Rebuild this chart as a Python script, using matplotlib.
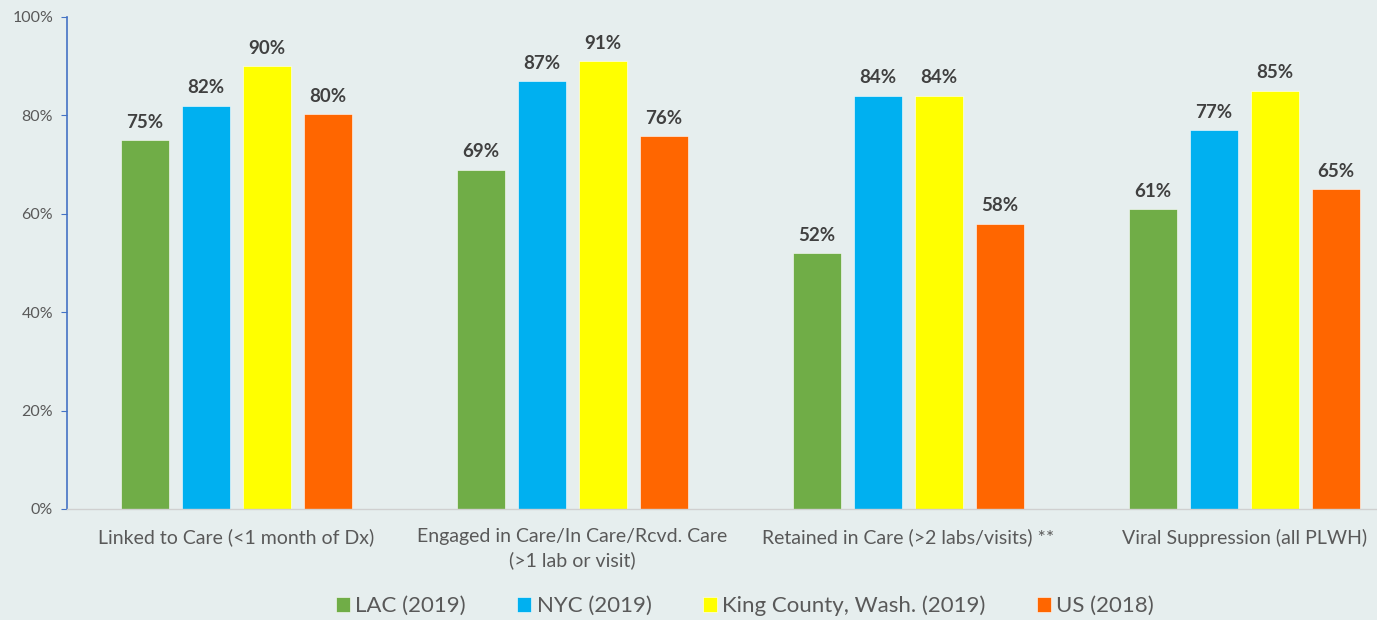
import matplotlib.pyplot as plt
import numpy as np

plt.rcParams['font.family'] = ['Lato', 'DejaVu Sans']

categories = ['Linked to Care (<1 month of Dx)',
              'Engaged in Care/In Care/Rcvd. Care\n(>1 lab or visit)',
              'Retained in Care (>2 labs/visits) **',
              'Viral Suppression (all PLWH)']
series = ['LAC (2019)', 'NYC (2019)', 'King County, Wash. (2019)', 'US (2018)']
lac = [75, 69, 52, 61]
nyc = [82, 87, 84, 77]
king = [90, 91, 84, 85]
us = [80.3, 75.8, 58, 65]
values = [lac, nyc, king, us]
colors = ['#70AD47', '#00B0F0', '#FFFF00', '#FF6600']
yticks = [0, 20, 40, 60, 80, 100]

bg = '#E6EEEE'
fig = plt.figure(figsize=(13.77, 6.2), dpi=100, facecolor=bg)
ax = fig.add_axes([67 / 1377, (620 - 509) / 620, (1412 - 67) / 1377, 492 / 620])
ax.set_facecolor(bg)

x = np.arange(len(categories))
step = 0.1815
width = 0.143
for i, (name, vals, c) in enumerate(zip(series, values, colors)):
    pos = x + (i - 1.5) * step
    bars = ax.bar(pos, vals, width, color=c, label=name, edgecolor='white', linewidth=0.4)
    for b, v in zip(bars, vals):
        ax.text(b.get_x() + b.get_width() / 2, v + 1.9, f'{round(v)}%',
                ha='center', va='bottom', fontsize=13.5, fontweight='bold', color='#404040')

ax.set_xlim(-0.505, 3.5)
ax.set_ylim(0, 100)
ax.set_yticks(yticks)
ax.set_yticklabels([f'{t}%' for t in yticks], fontsize=11.5, color='#595959')
ax.set_xticks(x)
ax.set_xticklabels(categories, fontsize=14, color='#595959', linespacing=1.4)
ax.tick_params(axis='x', length=0, pad=14)
ax.tick_params(axis='y', length=4, color='#4472C4', pad=6)

for s in ['top', 'right']:
    ax.spines[s].set_visible(False)
ax.spines['left'].set_color('#4472C4')
ax.spines['left'].set_linewidth(1.2)
ax.spines['bottom'].set_color('#D0D0D0')
ax.spines['bottom'].set_linewidth(1)

leg = fig.legend(loc='center', bbox_to_anchor=(745 / 1377, 1 - 606 / 620), ncol=4,
                 frameon=False, fontsize=16, handlelength=0.63, handleheight=0.63,
                 handletextpad=0.25, columnspacing=2.3)
for t in leg.get_texts():
    t.set_color('#595959')

fig.savefig('out.png', dpi=100, facecolor=bg)
